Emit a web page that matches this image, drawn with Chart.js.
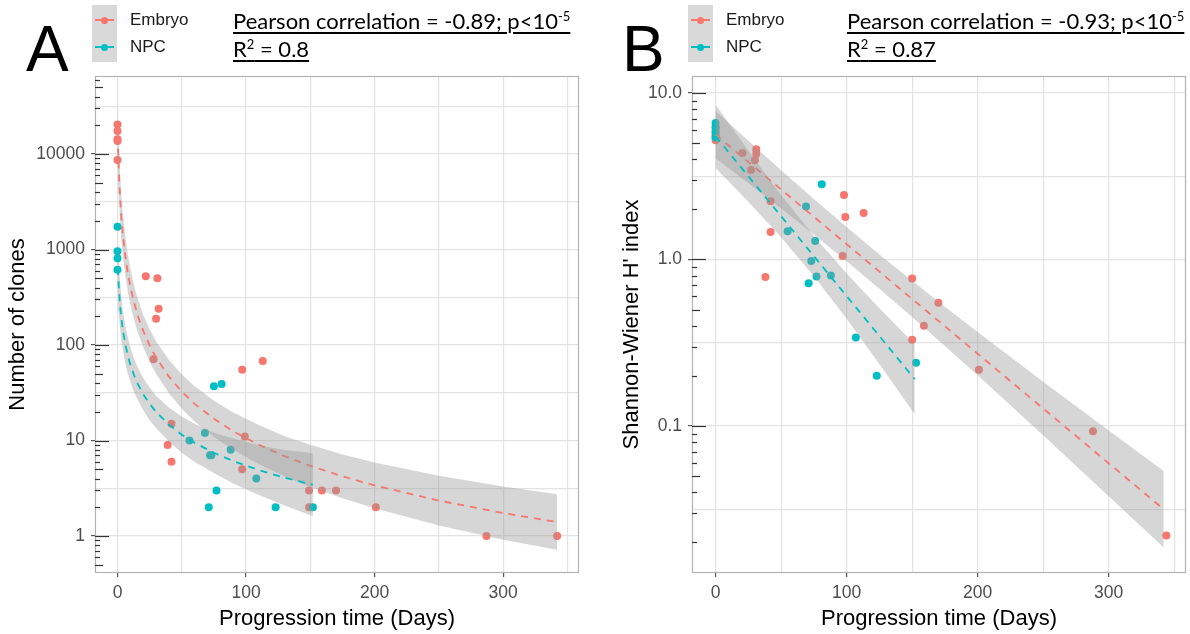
<!DOCTYPE html>
<html>
<head>
<meta charset="utf-8">
<script src="https://cdn.jsdelivr.net/npm/chart.js@4.4.0/dist/chart.umd.min.js"></script>
<style>
  body { margin: 0; width: 1190px; height: 634px; background: #fff; position: relative; overflow: hidden; font-family: "Liberation Sans", Arial, sans-serif; }
  .panel { position: absolute; top: 0; height: 634px; }
  #panelA { left: 0; width: 600px; }
  #panelB { left: 600px; width: 590px; }
  .tag { position: absolute; font-size: 64px; line-height: 64px; color: #000; }
  .legendBox { position: absolute; top: 5px; width: 25px; height: 57px; background: #d9d9d9; }
  .keyLine { position: absolute; left: 3px; width: 19px; height: 2px; }
  .keyDot { position: absolute; left: 9px; width: 7px; height: 7px; border-radius: 50%; }
  .legLabel { position: absolute; font-size: 17px; line-height: 20px; color: #1a1a1a; }
  .stat { position: absolute; top: 7px; font-family: Lato, "Open Sans", sans-serif; font-size: 22px; line-height: 28px; color: #000; white-space: nowrap; }
  .stat span { text-decoration: underline; text-decoration-thickness: 1.5px; text-underline-offset: 3px; }
  .stat sup { font-size: 13px; line-height: 0; }
</style>
</head>
<body>
<div class="panel" id="panelA"><canvas id="chartA"></canvas></div>
<div class="panel" id="panelB"><canvas id="chartB"></canvas></div>

<div class="tag" style="left:26px; top:17px;">A</div>
<div class="legendBox" style="left:92px;">
  <div class="keyLine" style="top:14px; background:#F8766D;"></div><div class="keyDot" style="top:11.5px; background:#F8766D;"></div>
  <div class="keyLine" style="top:41px; background:#00BFC4;"></div><div class="keyDot" style="top:38.5px; background:#00BFC4;"></div>
</div>
<div class="legLabel" style="left:130px; top:10px;">Embryo</div>
<div class="legLabel" style="left:130px; top:37px;">NPC</div>
<div class="stat" style="left:233px;"><span>Pearson correlation = -0.89; p&lt;10<sup>-5</sup></span><br><span>R<sup>2</sup> = 0.8</span></div>

<div class="tag" style="left:622px; top:17px;">B</div>
<div class="legendBox" style="left:688px;">
  <div class="keyLine" style="top:14px; background:#F8766D;"></div><div class="keyDot" style="top:11.5px; background:#F8766D;"></div>
  <div class="keyLine" style="top:41px; background:#00BFC4;"></div><div class="keyDot" style="top:38.5px; background:#00BFC4;"></div>
</div>
<div class="legLabel" style="left:726px; top:10px;">Embryo</div>
<div class="legLabel" style="left:726px; top:37px;">NPC</div>
<div class="stat" style="left:847px;"><span>Pearson correlation = -0.93; p&lt;10<sup>-5</sup></span><br><span>R<sup>2</sup> = 0.87</span></div>

<script>
const RED = "#F8766D";
const TEAL = "#00BFC4";
const BAND = "rgba(153, 153, 153, 0.4)";

// ---- Panel A: number of clones ----
const embryoDaysA = [0, 0, 0, 0, 0, 22, 31, 32, 30, 28, 97, 113, 42, 39, 42, 99, 97, 149, 159, 170, 149, 201, 287, 342];
const embryoClones = [20400, 17400, 14300, 13700, 8650, 525, 500, 240, 188, 71, 55, 68, 15, 9, 6, 11, 5, 3, 3, 3, 2, 2, 1, 1];
const npcDaysA = [0, 0, 0, 0, 56, 68, 72, 73, 75, 81, 88, 108, 77, 71, 123, 152];
const npcClones = [1730, 960, 810, 615, 10, 12, 7, 7, 37, 39, 8, 4, 3, 2, 2, 2];

// trend lines and their grey bands
const fitDaysEmbryoA = [0, 0.5, 1, 2, 3, 4, 6, 8, 10, 13, 16, 20, 25, 30, 40, 50, 60, 75, 90, 110, 130, 150, 175, 200, 250, 300, 342];
const fitEmbryoA = [21380, 10940, 6810, 3490, 2170, 1502, 862, 570, 409, 275, 199, 140.7, 98.9, 74.0, 46.7, 32.5, 24.2, 16.9, 12.5, 9.02, 6.86, 5.43, 4.22, 3.39, 2.35, 1.74, 1.40];
const fitEmbryoALow = [11480, 6010, 3830, 2030, 1293, 915, 538, 364, 264, 181.5, 133, 95.1, 66.9, 50.0, 31.2, 21.5, 15.8, 10.9, 7.99, 5.63, 4.23, 3.27, 2.48, 1.95, 1.29, 0.913, 0.719];
const fitEmbryoAHigh = [39800, 19910, 12100, 6000, 3644, 2464, 1382, 892, 633, 416, 298, 208, 146, 109.4, 69.8, 49.3, 37.1, 26.1, 19.6, 14.5, 11.1, 9.01, 7.16, 5.88, 4.27, 3.31, 2.73];

const fitDaysNpcA = [0, 0.5, 1, 2, 3, 4, 6, 8, 10, 13, 16, 20, 25, 30, 40, 50, 60, 75, 90, 110, 130, 152];
const fitNpcA = [871, 557, 406, 260, 189.5, 148.3, 102.4, 77.7, 62.3, 47.8, 38.6, 30.6, 24.2, 19.9, 14.7, 11.5, 9.47, 7.43, 6.10, 4.90, 4.08, 3.44];
const fitNpcALow = [437, 292.6, 223.4, 149.7, 114.2, 91.4, 64.6, 50.2, 41.2, 31.9, 26.1, 20.7, 16.3, 13.5, 9.68, 7.44, 5.97, 4.58, 3.55, 2.69, 2.09, 1.61];
const fitNpcAHigh = [1738, 1062, 739, 452, 314.6, 240.5, 162.3, 120.3, 94.3, 71.5, 57.1, 45.2, 35.8, 29.5, 22.2, 17.8, 15.0, 12.05, 10.47, 8.92, 7.96, 7.36];

// ---- Panel B: Shannon-Wiener index ----
const embryoDaysB = [0, 0, 0, 0, 0, 20.5, 31, 31, 30, 27, 42, 42, 38, 98, 99, 113, 97, 150, 150, 170, 159, 201, 288, 344];
const embryoShannon = [5.2, 5.5, 5.6, 5.9, 6.2, 4.36, 4.6, 4.3, 3.95, 3.45, 2.24, 1.46, 0.785, 2.44, 1.80, 1.90, 1.05, 0.77, 0.33, 0.55, 0.40, 0.218, 0.093, 0.022];
const npcDaysB = [0, 0, 0, 0, 81, 69, 55, 76, 73, 88, 77, 71, 107, 153, 123];
const npcShannon = [6.6, 6.2, 5.8, 5.4, 2.83, 2.08, 1.48, 1.29, 0.98, 0.80, 0.79, 0.72, 0.34, 0.24, 0.20];

const fitDaysEmbryoB = [0, 25, 50, 75, 100, 125, 150, 175, 200, 250, 300, 342];
const fitEmbryoB = [5.62, 3.85, 2.636, 1.805, 1.236, 0.846, 0.579, 0.397, 0.2716, 0.1274, 0.0597, 0.0316];
const fitEmbryoBLow = [4.06, 2.874, 2.021, 1.411, 0.975, 0.667, 0.4515, 0.3027, 0.2014, 0.0879, 0.0379, 0.0186];
const fitEmbryoBHigh = [7.79, 5.16, 3.44, 2.31, 1.567, 1.073, 0.744, 0.520, 0.3664, 0.1845, 0.0940, 0.0537];

const fitDaysNpcB = [0, 25, 50, 75, 100, 125, 152];
const fitNpcB = [5.50, 3.16, 1.82, 1.047, 0.603, 0.347, 0.191];
const fitNpcBLow = [3.55, 2.223, 1.358, 0.793, 0.441, 0.236, 0.1177];
const fitNpcBHigh = [8.51, 4.50, 2.438, 1.382, 0.823, 0.509, 0.3096];

// ---- axes ----
const xGridDays = [0, 50, 100, 150, 200, 250, 300, 350];
const xTickDays = [0, 100, 200, 300];
const yGridA = [1, 3.162, 10, 31.62, 100, 316.2, 1000, 3162, 10000, 31623];
const yTicksA = [1, 10, 100, 1000, 10000];
const yLabelsA = ["1", "10", "100", "1000", "10000"];
const yGridB = [0.03162, 0.1, 0.3162, 1, 3.162, 10];
const yTicksB = [0.1, 1, 10];
const yLabelsB = ["0.1", "1.0", "10.0"];

function pts(xs, ys) {
  return xs.map((x, i) => ({ x: x, y: ys[i] }));
}

// annotation_logticks style marks + panel border
const panelDecor = {
  id: "panelDecor",
  afterDraw(chart) {
    const { ctx, chartArea } = chart;
    const y = chart.scales.y;
    ctx.save();
    ctx.strokeStyle = "#b3b3b3";
    ctx.lineWidth = 1.2;
    ctx.strokeRect(chartArea.left + 0.5, chartArea.top + 0.5, chartArea.width - 1, chartArea.height - 1);
    ctx.strokeStyle = "#333";
    ctx.lineWidth = 1.2;
    const lo = Math.floor(Math.log10(y.min));
    const hi = Math.ceil(Math.log10(y.max));
    for (let k = lo; k <= hi; k++) {
      for (let m = 1; m <= 9; m++) {
        const v = m * Math.pow(10, k);
        if (v < y.min || v > y.max) continue;
        const py = Math.round(y.getPixelForValue(v)) + 0.5;
        const len = m === 1 ? 14 : m === 5 ? 8 : 5;
        ctx.beginPath();
        ctx.moveTo(chartArea.left, py);
        ctx.lineTo(chartArea.left + len, py);
        ctx.stroke();
      }
    }
    ctx.restore();
  }
};

function makePanel(canvasId, p) {
  const tickFont = { family: "'Liberation Sans', Arial, sans-serif", size: 17.5 };
  const titleFont = { family: "'Liberation Sans', Arial, sans-serif", size: 22 };

  return new Chart(document.getElementById(canvasId), {
    type: "scatter",
    data: {
      datasets: [
        { type: "scatter", data: pts(p.eDays, p.eVals), backgroundColor: RED, borderWidth: 0, pointRadius: 4, order: 10 },
        { type: "scatter", data: pts(p.nDays, p.nVals), backgroundColor: TEAL, borderWidth: 0, pointRadius: 4, order: 9 },
        { type: "line", data: pts(p.eFitDays, p.eHigh), borderColor: "rgba(0,0,0,0)", borderWidth: 0, pointRadius: 0, fill: "+1", backgroundColor: BAND, tension: 0, order: 8 },
        { type: "line", data: pts(p.eFitDays, p.eLow), borderColor: "rgba(0,0,0,0)", borderWidth: 0, pointRadius: 0, fill: false, tension: 0, order: 7 },
        { type: "line", data: pts(p.eFitDays, p.eFit), borderColor: RED, borderWidth: 1.8, borderDash: [7, 6], pointRadius: 0, fill: false, order: 6 },
        { type: "line", data: pts(p.nFitDays, p.nHigh), borderColor: "rgba(0,0,0,0)", borderWidth: 0, pointRadius: 0, fill: "+1", backgroundColor: BAND, tension: 0, order: 5 },
        { type: "line", data: pts(p.nFitDays, p.nLow), borderColor: "rgba(0,0,0,0)", borderWidth: 0, pointRadius: 0, fill: false, tension: 0, order: 4 },
        { type: "line", data: pts(p.nFitDays, p.nFit), borderColor: TEAL, borderWidth: 1.8, borderDash: [7, 6], pointRadius: 0, fill: false, order: 3 }
      ]
    },
    options: {
      responsive: true,
      maintainAspectRatio: false,
      animation: false,
      events: [],
      layout: { padding: { left: 0, top: 76, right: p.padRight, bottom: 0 } },
      plugins: { legend: { display: false }, tooltip: { enabled: false } },
      scales: {
        x: {
          type: "linear",
          min: p.xMin,
          max: p.xMax,
          bounds: "data",
          afterFit: (s) => { s.height = 61; },
          afterBuildTicks: (s) => { s.ticks = xGridDays.map((v) => ({ value: v })); },
          border: { display: false },
          grid: {
            color: "#e3e3e3",
            lineWidth: 1.2,
            tickLength: 4,
            tickColor: (c) => (c.tick && xTickDays.includes(c.tick.value) ? "#555" : "rgba(0,0,0,0)")
          },
          ticks: {
            autoSkip: false,
            maxRotation: 0,
            padding: 5.5,
            color: "#4d4d4d",
            font: tickFont,
            callback: (v) => (xTickDays.includes(v) ? String(v) : "")
          },
          title: { display: true, text: "Progression time (Days)", color: "#000", font: titleFont, padding: { top: 0, bottom: 1.5 } }
        },
        y: {
          type: "logarithmic",
          min: p.yMin,
          max: p.yMax,
          bounds: "data",
          afterFit: (s) => { s.width = p.yWidth; },
          afterBuildTicks: (s) => { s.ticks = p.yGrid.map((v) => ({ value: v })); },
          border: { display: false },
          grid: {
            color: "#e3e3e3",
            lineWidth: 1.2,
            tickLength: 4,
            tickColor: (c) => (c.tick && p.yTicks.includes(c.tick.value) ? "#555" : "rgba(0,0,0,0)")
          },
          ticks: {
            autoSkip: false,
            padding: 6,
            color: "#4d4d4d",
            font: tickFont,
            callback: (v) => {
              const i = p.yTicks.indexOf(v);
              return i >= 0 ? p.yLabels[i] : "";
            }
          },
          title: { display: true, text: p.yTitle, color: "#000", font: titleFont, padding: { top: p.yTitlePad, bottom: 0 } }
        }
      }
    },
    plugins: [panelDecor]
  });
}

makePanel("chartA", {
  eDays: embryoDaysA, eVals: embryoClones, nDays: npcDaysA, nVals: npcClones,
  eFitDays: fitDaysEmbryoA, eFit: fitEmbryoA, eLow: fitEmbryoALow, eHigh: fitEmbryoAHigh,
  nFitDays: fitDaysNpcA, nFit: fitNpcA, nLow: fitNpcALow, nHigh: fitNpcAHigh,
  xMin: -17.5, xMax: 359, yMin: 0.41, yMax: 65600,
  yGrid: yGridA, yTicks: yTicksA, yLabels: yLabelsA,
  yTitle: "Number of clones", yTitlePad: 5, yWidth: 95, padRight: 21
});

makePanel("chartB", {
  eDays: embryoDaysB, eVals: embryoShannon, nDays: npcDaysB, nVals: npcShannon,
  eFitDays: fitDaysEmbryoB, eFit: fitEmbryoB, eLow: fitEmbryoBLow, eHigh: fitEmbryoBHigh,
  nFitDays: fitDaysNpcB, nFit: fitNpcB, nLow: fitNpcBLow, nHigh: fitNpcBHigh,
  xMin: -18, xMax: 359, yMin: 0.01309, yMax: 12.65,
  yGrid: yGridB, yTicks: yTicksB, yLabels: yLabelsB,
  yTitle: "Shannon-Wiener H' index", yTitlePad: 19, yWidth: 92, padRight: 1
});
</script>
</body>
</html>
